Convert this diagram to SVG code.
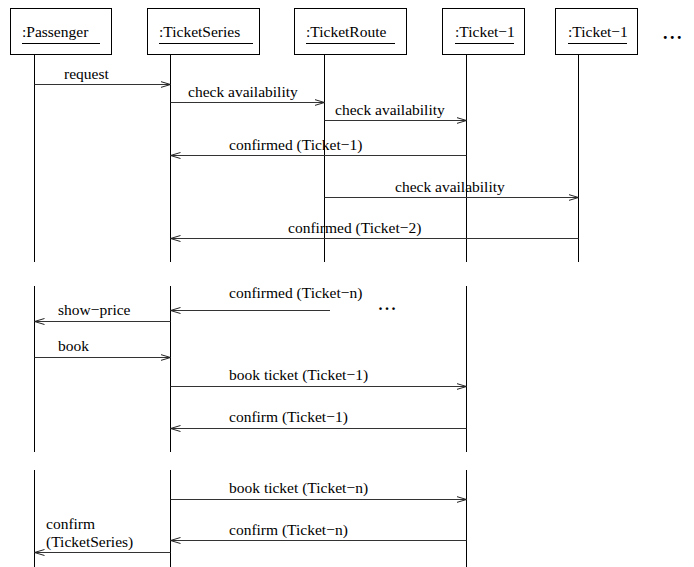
<svg xmlns="http://www.w3.org/2000/svg" width="694" height="567" viewBox="0 0 694 567">
  <defs>
    <marker id="open" markerUnits="userSpaceOnUse" markerWidth="12" markerHeight="8" refX="10" refY="3.5" orient="auto">
      <path d="M0,0.5 L10,3.5 L0,6.5" fill="none" stroke="#222" stroke-width="1"/>
    </marker>
  </defs>
  <style>
    text { font-family: "Liberation Serif", "Times New Roman", serif; font-size: 15.5px; fill: #000; }
    .dots { font-weight: bold; font-size: 18px; letter-spacing: 2.5px; }
    .box { fill: #fff; stroke: #000; stroke-width: 1; }
    .ul { stroke: #000; stroke-width: 1; }
    .life { stroke: #000; stroke-width: 1; fill: none; }
    .msg { stroke: #333; stroke-width: 1.1; fill: none; marker-end: url(#open); }
  </style>

  <!-- object boxes with lifelines -->
  <g id="passenger">
    <rect class="box" x="10.5" y="8.5" width="101" height="46"/>
    <text x="22" y="37">:Passenger</text>
    <line class="ul" x1="22" y1="43.5" x2="100" y2="43.5"/>
    <path class="life" d="M34.5,55 V262 M34.5,286 V452 M34.5,470 V567"/>
  </g>
  <g id="ticketSeries">
    <rect class="box" x="147.5" y="8.5" width="112" height="46"/>
    <text x="159" y="37">:TicketSeries</text>
    <line class="ul" x1="159" y1="43.5" x2="253" y2="43.5"/>
    <path class="life" d="M170.5,55 V262 M170.5,286 V452 M170.5,470 V567"/>
  </g>
  <g id="ticketRoute">
    <rect class="box" x="294.5" y="8.5" width="112" height="46"/>
    <text x="306" y="37">:TicketRoute</text>
    <line class="ul" x1="306" y1="43.5" x2="395" y2="43.5"/>
    <path class="life" d="M324.5,55 V262"/>
  </g>
  <g id="ticket1">
    <rect class="box" x="442.5" y="8.5" width="82" height="46"/>
    <text x="455" y="37">:Ticket−1</text>
    <line class="ul" x1="455" y1="43.5" x2="514" y2="43.5"/>
    <path class="life" d="M466.5,55 V262 M466.5,286 V452 M466.5,470 V567"/>
  </g>
  <g id="ticket2">
    <rect class="box" x="555.5" y="8.5" width="82" height="46"/>
    <text x="568" y="37">:Ticket−1</text>
    <line class="ul" x1="568" y1="43.5" x2="627" y2="43.5"/>
    <path class="life" d="M578.5,55 V262"/>
  </g>
  <g id="more">
    <text class="dots" x="663" y="38.5">...</text>
  </g>

  <!-- messages -->
  <g id="connectors">
    <line class="msg" x1="34.5" y1="84.5" x2="170.5" y2="84.5"/>
    <line class="msg" x1="170.5" y1="102.5" x2="324.5" y2="102.5"/>
    <line class="msg" x1="324.5" y1="120.5" x2="466.5" y2="120.5"/>
    <line class="msg" x1="466.5" y1="155.5" x2="170.5" y2="155.5"/>
    <line class="msg" x1="324.5" y1="197.5" x2="578.5" y2="197.5"/>
    <line class="msg" x1="578.5" y1="238.5" x2="170.5" y2="238.5"/>
    <line class="msg" x1="330" y1="310.5" x2="170.5" y2="310.5"/>
    <line class="msg" x1="170.5" y1="321.5" x2="34.5" y2="321.5"/>
    <line class="msg" x1="34.5" y1="357.5" x2="170.5" y2="357.5"/>
    <line class="msg" x1="170.5" y1="386.5" x2="466.5" y2="386.5"/>
    <line class="msg" x1="466.5" y1="428.5" x2="170.5" y2="428.5"/>
    <line class="msg" x1="170.5" y1="499.5" x2="466.5" y2="499.5"/>
    <line class="msg" x1="466.5" y1="540.5" x2="170.5" y2="540.5"/>
    <line class="msg" x1="170.5" y1="552.5" x2="34.5" y2="552.5"/>
  </g>

  <!-- message labels -->
  <g id="labels">
    <text x="64" y="79">request</text>
    <text x="188" y="97">check availability</text>
    <text x="335" y="115">check availability</text>
    <text x="229" y="150">confirmed (Ticket−1)</text>
    <text x="395" y="192">check availability</text>
    <text x="288" y="233">confirmed (Ticket−2)</text>
    <text x="229" y="298">confirmed (Ticket−n)</text>
    <text class="dots" x="378.5" y="310" style="font-size:16px;letter-spacing:2.5px">...</text>
    <text x="58" y="315">show−price</text>
    <text x="58" y="351">book</text>
    <text x="229" y="380">book ticket (Ticket−1)</text>
    <text x="229" y="422">confirm (Ticket−1)</text>
    <text x="229" y="493">book ticket (Ticket−n)</text>
    <text x="229" y="535">confirm (Ticket−n)</text>
    <text x="46" y="529">confirm</text>
    <text x="46" y="547">(TicketSeries)</text>
  </g>
</svg>
